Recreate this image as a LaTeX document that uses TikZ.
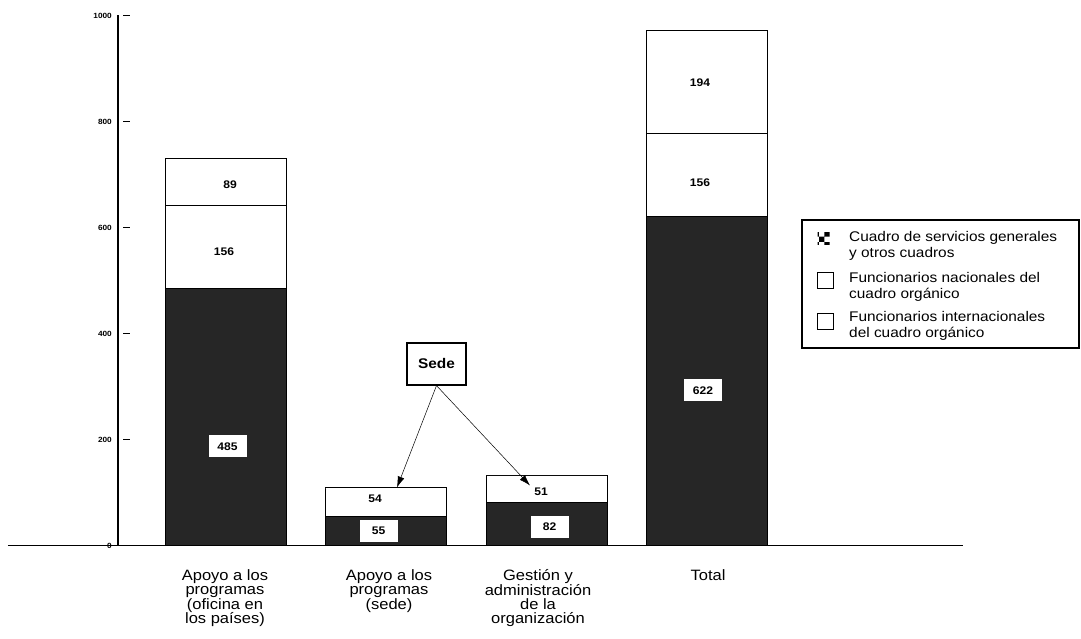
\documentclass[tikz,border=0pt]{standalone}
\usepackage{fontspec}
\setmainfont{Liberation Sans}
\newfontfamily\chartfont[FakeStretch=1.1]{Liberation Sans}
\usetikzlibrary{arrows.meta, patterns}
\tikzset{
  darkbar/.style = {fill=black!85, draw=black, line width=0.6pt},
  whitebar/.style = {fill=white, draw=black, line width=0.6pt},
  numlab/.style = {font=\chartfont\bfseries\fontsize{11}{13}\selectfont, inner sep=1pt},
  boxlab/.style = {numlab, fill=white, minimum width=38, minimum height=22},
  ticklab/.style = {font=\chartfont\bfseries\fontsize{7.5}{8}\selectfont, anchor=east, inner sep=0pt},
  catlab/.style = {font=\chartfont\fontsize{15}{14.3}\selectfont, align=center, anchor=north, inner sep=0pt},
  legtext/.style = {font=\chartfont\fontsize{14}{16}\selectfont, align=left, anchor=west, inner sep=0pt},
  legkey/.style = {draw, line width=0.8pt, minimum size=16, inner sep=0pt},
  pointer/.style = {-{Latex[length=11pt, width=7pt]}, line width=0.5pt}
}

\begin{document}
\begin{tikzpicture}[x=1pt, y=1pt]
    \useasboundingbox (-118, -93.5) rectangle (963, 545.5);

    % bars, in data units
    \begin{scope}[yscale=0.53]
      \foreach \bx/\a/\b/\c in {47/485/641/730, 207/55/109/109, 368/82/133/133, 528/622/778/972} {
        \draw [darkbar] (\bx, 0) rectangle (\bx+121, \a);
        \draw [whitebar] (\bx, \a) rectangle (\bx+121, \b);
        \draw [whitebar] (\bx, \b) rectangle (\bx+121, \c);
      }
      \foreach \v in {0, 200, 400, 600, 800, 1000} {
        \draw [line width=0.5pt] (5, \v) -- (12, \v);
        \node [ticklab] (tick\v) at (-6, \v) {\v};
      }
    \end{scope}

    \draw [line width=1.5pt] (0, 0) -- (0, 530);
    \draw [line width=1.2pt] (-110, 0) -- (845, 0);

    % values
    \node [boxlab] (v485) at (109.5, 99) {485};
    \node [numlab] (v156a) at (106, 293.5) {156};
    \node [numlab] (v89) at (112, 360.5) {89};
    \node [boxlab] (v55) at (260.5, 14.5) {55};
    \node [numlab] (v54) at (257, 46.5) {54};
    \node [boxlab] (v82) at (431.5, 18.5) {82};
    \node [numlab] (v51) at (423, 53.5) {51};
    \node [boxlab] (v622) at (585, 155) {622};
    \node [numlab] (v156b) at (582, 362.5) {156};
    \node [numlab] (v194) at (582, 462.5) {194};

    % sede
    \node [draw, line width=1.2pt, minimum width=59, minimum height=42,
           font=\chartfont\bfseries\fontsize{14}{16}\selectfont] (sede) at (318.5, 181.5) {Sede};
    \coordinate (top2) at (279, 58);
    \coordinate (top3) at (412, 60);
    \draw [pointer] (sede.south) -- (top2);
    \draw [pointer] (sede.south) -- (top3);

    % legend
    \draw [line width=1.2pt] (684, 197.5) rectangle (961, 325.5);
    \node [pattern=checkerboard, minimum size=12, inner sep=0pt] (key1) at (705.5, 306.5) {};
    \node [legkey] (key2) at (707, 265.5) {};
    \node [legkey] (key3) at (707.5, 224) {};
    \node [legtext] (leg1) at (731, 300) {Cuadro de servicios generales\\y otros cuadros};
    \node [legtext] (leg2) at (731, 258.5) {Funcionarios nacionales del\\cuadro orgánico};
    \node [legtext] (leg3) at (731, 220) {Funcionarios internacionales\\del cuadro orgánico};

    % categories
    \node [catlab] (cat1) at (107, -24) {Apoyo a los\\programas\\(oficina en\\los países)};
    \node [catlab] (cat2) at (271, -24) {Apoyo a los\\programas\\(sede)};
    \node [catlab] (cat3) at (420, -24) {Gestión y\\administración\\de la\\organización};
    \node [catlab] (cat4) at (590, -24) {Total};
  \end{tikzpicture}
\end{document}
